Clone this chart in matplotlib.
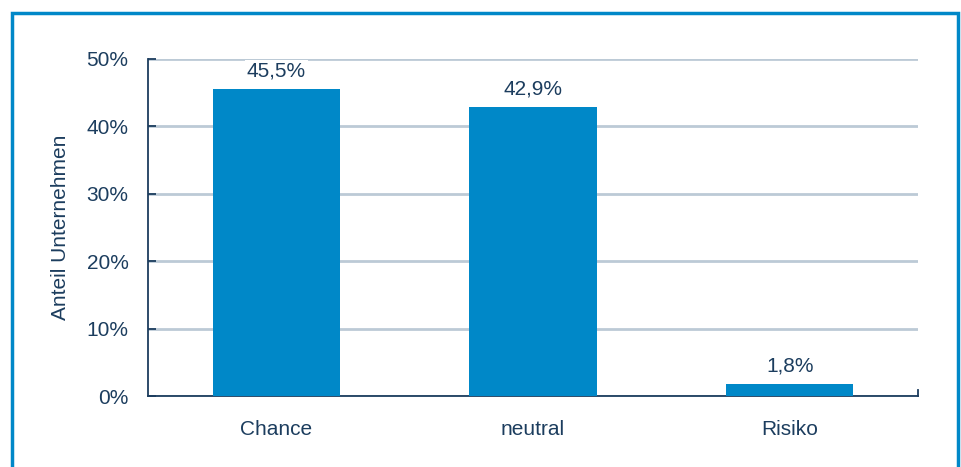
import matplotlib.pyplot as plt
from matplotlib.patches import Rectangle
from matplotlib.ticker import FuncFormatter, MultipleLocator

categories = ["Chance", "neutral", "Risiko"]
shares = [45.5, 42.9, 1.8]
value_labels = ["45,5%", "42,9%", "1,8%"]

bar_color = "#0088C8"
text_color = "#1C3D5E"
grid_color = "#BCCAD6"

plt.rcParams["font.family"] = ["Liberation Sans", "DejaVu Sans"]

fig = plt.figure(figsize=(9.61, 4.67), dpi=100)
ax = fig.add_axes([148 / 961, 1 - 396 / 467, 770 / 961, 337 / 467])

x = range(len(categories))
bars = ax.bar(x, shares, width=0.495, color=bar_color, zorder=3)
for bar, label in zip(bars, value_labels):
    ax.annotate(label, (bar.get_x() + bar.get_width() / 2, bar.get_height()),
                xytext=(0, 6), textcoords="offset points", ha="center", va="bottom",
                fontsize=15, color=text_color, zorder=5,
                bbox=dict(facecolor="white", edgecolor="none", pad=1.5))

ax.set_xlim(-0.5, 2.5)
ax.set_ylim(0, 50)
ax.yaxis.set_major_locator(MultipleLocator(10))
ax.yaxis.set_major_formatter(FuncFormatter(lambda v, _: f"{v:.0f}%"))
ax.set_xticks(list(x))
ax.set_xticklabels(categories)
ax.grid(axis="y", color=grid_color, linewidth=2, zorder=0)

for side in ("top", "right"):
    ax.spines[side].set_visible(False)
for side in ("left", "bottom"):
    ax.spines[side].set_color(text_color)
    ax.spines[side].set_linewidth(1.3)

ax.tick_params(axis="y", direction="in", length=6, width=1.3, color=text_color,
               labelcolor=text_color, labelsize=15, pad=14)
ax.tick_params(axis="x", length=0, labelcolor=text_color, labelsize=15, pad=17)
ax.set_ylabel("Anteil Unternehmen", color=text_color, fontsize=15, labelpad=12)

# small tick at right end of the x axis
ax.plot([2.5, 2.5], [0, 0.9], color=text_color, linewidth=1.3, clip_on=False, zorder=4)

fig.patches.append(Rectangle((12 / 961, -0.1), 946 / 961, 1.1 - 13 / 467,
                             transform=fig.transFigure, fill=False,
                             edgecolor=bar_color, linewidth=2.5, clip_on=False))

fig.savefig("out.png", dpi=100)
